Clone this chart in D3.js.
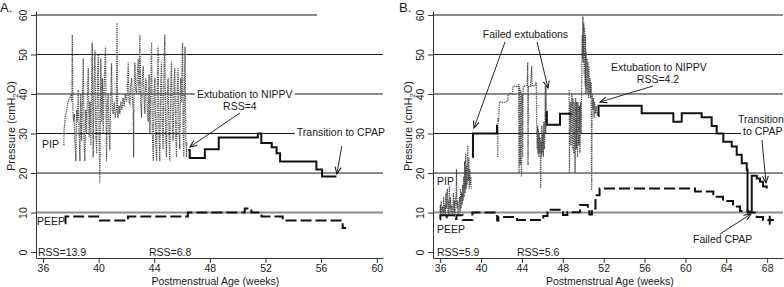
<!DOCTYPE html>
<html>
<head>
<meta charset="utf-8">
<script src="https://cdn.jsdelivr.net/npm/d3@7"></script>
<style>
  body { margin: 0; background: #fff; }
  svg { display: block; font-family: Arial, "Liberation Sans", Helvetica, sans-serif; }
</style>
</head>
<body>
<div id="chart"></div>
<script>
// Axis ticks
const weekTicksA = [36, 40, 44, 48, 52, 56, 60];
const weekTicksB = [36, 40, 44, 48, 52, 56, 60, 64, 68];
const pressureTicks = [0, 10, 20, 30, 40, 50, 60];

// Panel A  -- [postmenstrual week, pressure (cmH2O)]
const pipVentA = [
  [37.50,27],[37.52,31],[37.60,34],[37.70,36],[37.80,38],[37.92,39],[38.02,40],[38.08,38],[38.11,55],[38.15,36],
  [38.20,33],[38.25,35],[38.30,28],[38.37,23],[38.42,36],[38.48,33],[38.54,41],[38.60,30],[38.66,23],[38.72,40],
  [38.78,28],[38.84,38],[38.90,49],[38.96,27],[39.02,23],[39.08,36],[39.14,30],[39.20,41],[39.26,46.5],[39.32,29],
  [39.38,38],[39.44,27],[39.50,44],[39.54,53],[39.61,24],[39.67,42],[39.74,51],[39.80,30],[39.86,25],[39.92,45],
  [39.98,50],[40.04,28],[40.09,17.4],[40.16,49],[40.22,33],[40.28,44],[40.33,30],[40.40,42],[40.50,52],[40.57,23],
  [40.63,37],[40.69,40],[40.75,31],[40.81,25.8],[40.87,38],[40.93,47.8],[40.99,36],[41.05,35],[41.12,38],[41.20,34],
  [41.27,36],[41.33,58],[41.37,34],[41.41,34],[41.47,37],[41.53,35],[41.60,38],[41.68,36],[41.76,39],[41.84,37],
  [41.92,40],[42.01,38],[42.07,41],[42.13,48],[42.19,38],[42.25,37.6],[42.31,42],[42.37,44],[42.43,39],[42.49,36],
  [42.52,24],[42.55,41],[42.61,48],[42.67,41],[42.73,40],[42.79,45],[42.85,49],[42.91,40],[42.97,55],[43.03,38],
  [43.09,34],[43.15,45],[43.21,47],[43.27,39],[43.33,35],[43.39,44],[43.45,42],[43.51,36],[43.57,33],[43.63,45],
  [43.69,30],[43.75,41],[43.81,53],[43.87,30],[43.93,23],[43.99,40],[44.05,44],[44.11,28],[44.17,23],[44.23,43],
  [44.28,52],[44.34,30],[44.40,23],[44.46,41],[44.52,48],[44.58,32],[44.64,26],[44.70,45],[44.76,55],[44.82,30],
  [44.88,24],[44.94,40],[45.00,44],[45.06,30],[45.12,23],[45.18,42],[45.24,48],[45.30,33],[45.36,28],[45.42,43],
  [45.48,46.5],[45.54,30],[45.60,24],[45.66,42],[45.72,46.5],[45.78,31],[45.84,26],[45.90,44],[45.96,38],[46.00,48],
  [46.04,53],[46.08,30],[46.13,24],[46.18,45],[46.22,52],[46.27,29],[46.32,24],[46.35,28]
];
const pipNippvA = [
  [46.45,25.8],[46.55,23.8],[47.64,26],[48.64,29],[51.45,30],[51.7,27.6],[52.45,26.5],[52.8,25],
  [53.05,22.9],[55.66,20.9],[56.07,19.1],[57.1,19.1]
];
const peepA = [
  [37.58,7.3],[37.62,9],[40.09,8],[42.11,9],[46.42,10],[50.51,11],[50.99,10],[51.71,9],[53.24,8],
  [57.55,6.1],[57.8,6.1]
];

// Panel B
const pipVentB1 = [
  [35.98,10],[36.02,12],[36.06,9.5],[36.1,13],[36.15,10],[36.2,11.5],[36.3,9.5],[36.35,14],[36.4,10],[36.45,12],
  [36.5,9.5],[36.55,15],[36.6,11],[36.7,16],[36.75,10],[36.8,13],[36.85,9],[36.9,17],[36.95,11],[37.0,14],
  [37.05,10],[37.1,12],[37.2,9.5],[37.3,15],[37.35,10],[37.4,13],[37.45,9],[37.5,14],[37.55,12],[37.6,21],
  [37.65,11],[37.7,13],[37.75,9.5],[37.8,11],[37.9,14],[37.95,10],[38.0,16],[38.05,11],[38.1,15],[38.15,12],
  [38.2,17],[38.25,13],[38.3,19],[38.35,14],[38.4,23],[38.45,15],[38.5,25],[38.55,16],[38.6,22],[38.65,17],
  [38.7,27],[38.75,18],[38.8,24],[38.85,16],[38.9,21],[38.95,17],[39.0,19],[39.05,16]
];
const pipNippvB1 = [[39.18,24],[39.21,30],[41.56,32],[41.6,32]];
const pipVentB2 = [
  [41.64,24],[41.66,34],[41.72,33],[41.8,38],[42.0,38],[42.2,37.8],[42.4,38],[42.62,38.2],[42.67,40],[42.9,40.2],
  [43.1,40],[43.13,42],[43.4,42],[43.6,41.8],[43.68,42.5],[43.72,20],[43.78,42],[43.84,22],[43.9,41],[43.96,19],
  [44.02,40],[44.08,24],[44.12,42],[44.3,42],[44.52,42.2],[44.57,48],[44.6,22],[44.64,42],[44.85,42],[44.96,47],
  [45.0,42],[45.25,42],[45.4,43],[45.46,30],[45.5,26],[45.54,32],[45.58,25],[45.62,31],[45.66,24],[45.7,30],
  [45.75,25],[45.8,29],[45.84,16.2],[45.88,28],[45.92,24],[45.96,32],[46.0,25],[46.05,30],[46.1,24],[46.15,33],
  [46.2,26],[46.25,30],[46.29,42],[46.33,30],[46.36,41.8],[46.38,35]
];
const pipNippvB2 = [[46.38,35.5],[46.44,32.2],[47.73,35],[48.87,35]];
const pipVentB3 = [
  [48.62,41],[48.65,20],[48.72,38],[48.8,27],[48.88,40],[48.94,26],[49.0,39],[49.06,25],[49.12,38],[49.2,20],
  [49.26,39],[49.32,26],[49.38,38],[49.44,24],[49.5,38],[49.56,27],[49.62,37],[49.68,25],[49.74,38],[49.8,30],
  [49.85,41],[49.89,55],[49.93,49],[49.97,59.6],[50.01,48],[50.05,58],[50.09,45],[50.13,57],[50.17,42],[50.21,55],
  [50.25,40],[50.29,51],[50.33,41],[50.37,49],[50.42,40],[50.47,48],[50.52,39],[50.57,47],[50.62,40],[50.67,44],
  [50.72,39],[50.78,43],[50.83,15.7],[50.88,40],[50.95,36],[51.0,39],[51.06,34],[51.12,38],[51.2,35],[51.28,37],
  [51.38,34.5]
];
const pipNippvB3 = [
  [51.46,34.4],[51.5,37],[55.72,35.1],[58.82,33],[59.64,35.1],[61.59,34.1],[62.57,31.9],[63.06,30],[63.71,27.9],
  [64.53,26.7],[65.02,24.6],[65.51,22.5],[66.0,20.8],[66.08,10.2],[66.49,19.3],[66.98,18.6],[67.3,17.8],
  [67.6,16.6],[67.96,16.1]
];
const peepB = [
  [35.98,8.3],[36.02,9.3],[36.6,8.4],[36.64,9.3],[37.55,8.4],[37.6,9.3],[38.2,8.1],[39.15,10],[41.58,8.0],
  [41.7,8.9],[43.52,8.1],[46.09,9.1],[46.5,10.7],[48.02,9.4],[48.45,10.1],[49.68,11.9],[50.45,11.0],[50.6,9.5],
  [50.85,11],[51.2,14.4],[51.6,16.1],[60.94,15.3],[62.73,14],[63.68,12.9],[64.66,11.5],[65.34,10.4],[66.12,10],
  [66.98,8.9],[67.59,8.1],[68.25,9.2],[68.25,6.9],[68.25,8.1],[68.65,8.1]
];

const panels = [
  {
    label: "A.", labelX: 0,
    domain: [35.5, 60.45], range: [36, 383], ticks: weekTicksA, titleWeek: 48.4,
    grid: [{ v: 60, to: 55.7, gray: true }, { v: 50 }, { v: 40 }, { v: 30 }, { v: 20 }, { v: 10, gray: true }],
    vent: [pipVentA], nippv: [pipNippvA], peep: peepA,
    notes: [
      { t: "Extubation to NIPPV", w: 47.07, v: 39.0, bg: true },
      { t: "RSS=4", w: 50.16, v: 35.95, anchor: "middle" },
      { t: "Transition to CPAP", w: 54.25, v: 29.37, bg: true },
      { t: "PIP", w: 35.93, v: 26.33 },
      { t: "PEEP", w: 35.57, v: 6.85 },
      { t: "RSS=13.9", w: 35.64, v: -0.99 },
      { t: "RSS=6.8", w: 43.62, v: -0.99 }
    ],
    arrows: [[50.16, 35.19, 46.56, 26.59], [57.49, 26.84, 57.13, 19.76]]
  },
  {
    label: "B.", labelX: 399,
    domain: [35.3, 69.55], range: [433, 783], ticks: weekTicksB, titleWeek: 52.6,
    grid: [{ v: 60, gray: true }, { v: 50 }, { v: 40 }, { v: 30 }, { v: 20 }, { v: 10, gray: true }],
    vent: [pipVentB1, pipVentB2, pipVentB3], nippv: [pipNippvB1, pipNippvB2, pipNippvB3], peep: peepB,
    notes: [
      { t: "Failed extubations", w: 44.35, v: 54.17, anchor: "middle" },
      { t: "Extubation to NIPPV", w: 52.72, v: 45.94 },
      { t: "RSS=4.2", w: 57.32, v: 42.78, anchor: "middle" },
      { t: "Transition", w: 65.15, v: 32.66 },
      { t: "to CPAP", w: 65.64, v: 29.62, bg: true },
      { t: "Failed CPAP", w: 60.74, v: 2.17 },
      { t: "PIP", w: 35.69, v: 16.97 },
      { t: "PEEP", w: 35.69, v: 4.9 },
      { t: "RSS=5.9", w: 35.69, v: -0.99 },
      { t: "RSS=5.6", w: 43.52, v: -0.99 }
    ],
    arrows: [
      [42.35, 53.16, 39.31, 31.39], [45.48, 53.16, 46.55, 41.52], [56.83, 42.02, 51.64, 37.97],
      [67.49, 28.36, 67.89, 17.48], [63.38, 4.57, 66.42, 9.63]
    ]
  }
];

const svg = d3.select("#chart").append("svg").attr("width", 784).attr("height", 287);

svg.append("defs").append("marker")
  .attr("id", "arrow")
  .attr("viewBox", "-8 -4 9 8")
  .attr("refX", 0).attr("refY", 0)
  .attr("markerWidth", 9).attr("markerHeight", 8)
  .attr("markerUnits", "userSpaceOnUse")
  .attr("orient", "auto")
  .append("path")
  .attr("d", "M-7,-3L0,0L-7,3")
  .attr("fill", "none").attr("stroke", "#111").attr("stroke-width", 1);

const y = d3.scaleLinear().domain([-1.5, 61]).range([258, 11]);

panels.forEach((p) => {
  const x = d3.scaleLinear().domain(p.domain).range(p.range);
  const g = svg.append("g");

  // gridlines
  p.grid.forEach((gl) => {
    g.append("line")
      .attr("x1", p.range[0]).attr("x2", gl.to ? x(gl.to) : p.range[1])
      .attr("y1", y(gl.v)).attr("y2", y(gl.v))
      .attr("stroke", gl.gray ? "#8c8c8c" : "#1a1a1a")
      .attr("stroke-width", gl.gray ? 2 : 1);
  });

  // annotation text (white box where it breaks a gridline)
  p.notes.forEach((n) => {
    const t = g.append("text")
      .attr("x", x(n.w)).attr("y", y(n.v))
      .attr("text-anchor", n.anchor || "start")
      .attr("font-size", 10.5).attr("fill", "#1a1a1a")
      .text(n.t);
    if (n.bg) {
      const b = t.node().getBBox();
      g.insert("rect", () => t.node())
        .attr("x", b.x - 2).attr("y", b.y).attr("width", b.width + 4).attr("height", b.height)
        .attr("fill", "#fff");
    }
  });

  const line = d3.line().x((d) => x(d[0])).y((d) => y(d[1]));
  const step = d3.line().curve(d3.curveStepAfter).x((d) => x(d[0])).y((d) => y(d[1]));

  // ventilator PIP (dotted)
  p.vent.forEach((s) => {
    g.append("path").datum(s)
      .attr("fill", "none").attr("stroke", "#4d4d4d")
      .attr("stroke-width", 1.2).attr("stroke-dasharray", "1.3,0.9")
      .attr("d", line);
  });

  // non-invasive PIP (solid steps)
  p.nippv.forEach((s) => {
    g.append("path").datum(s)
      .attr("fill", "none").attr("stroke", "#111").attr("stroke-width", 2)
      .attr("d", step);
  });

  // PEEP (dashed steps)
  g.append("path").datum(p.peep)
    .attr("fill", "none").attr("stroke", "#111").attr("stroke-width", 2)
    .attr("stroke-dasharray", "11,4")
    .attr("d", step);

  // arrows
  p.arrows.forEach((a) => {
    g.append("line")
      .attr("x1", x(a[0])).attr("y1", y(a[1]))
      .attr("x2", x(a[2])).attr("y2", y(a[3]))
      .attr("stroke", "#111").attr("stroke-width", 0.9)
      .attr("marker-end", "url(#arrow)");
  });

  // x axis
  const gx = g.append("g")
    .attr("transform", `translate(0,${y(-1.5)})`)
    .call(d3.axisBottom(x).tickValues(p.ticks).tickSize(5).tickSizeOuter(0).tickPadding(1.5))
    .attr("font-size", 10.5).attr("font-family", null);
  gx.selectAll("path, line").attr("stroke", "#333");
  gx.selectAll("text").attr("fill", "#1a1a1a");

  // y axis, rotated tick labels
  const gy = g.append("g")
    .attr("transform", `translate(${p.range[0]},0)`)
    .call(d3.axisLeft(y).tickValues(pressureTicks).tickSize(5).tickSizeOuter(0))
    .attr("font-size", 10.5).attr("font-family", null);
  gy.selectAll("path, line").attr("stroke", "#333");
  gy.selectAll("text")
    .attr("fill", "#1a1a1a")
    .attr("transform", "rotate(-90)")
    .attr("x", 0).attr("y", -13).attr("dy", "0.35em")
    .attr("text-anchor", "middle");

  // axis titles
  g.append("text")
    .attr("x", x(p.titleWeek)).attr("y", 285)
    .attr("text-anchor", "middle").attr("font-size", 10.5).attr("fill", "#1a1a1a")
    .text("Postmenstrual Age (weeks)");

  const yt = g.append("text")
    .attr("transform", `translate(${p.range[0] - 25},126) rotate(-90)`)
    .attr("text-anchor", "middle").attr("dy", "0.35em")
    .attr("font-size", 11).attr("fill", "#1a1a1a");
  yt.append("tspan").text("Pressure (cmH");
  yt.append("tspan").attr("font-size", 8).attr("dy", 3).text("2");
  yt.append("tspan").attr("dy", -3).text("O)");

  // panel label
  g.append("text")
    .attr("x", p.labelX).attr("y", 12)
    .attr("font-size", 13).attr("fill", "#1a1a1a")
    .text(p.label);
});
</script>
</body>
</html>
